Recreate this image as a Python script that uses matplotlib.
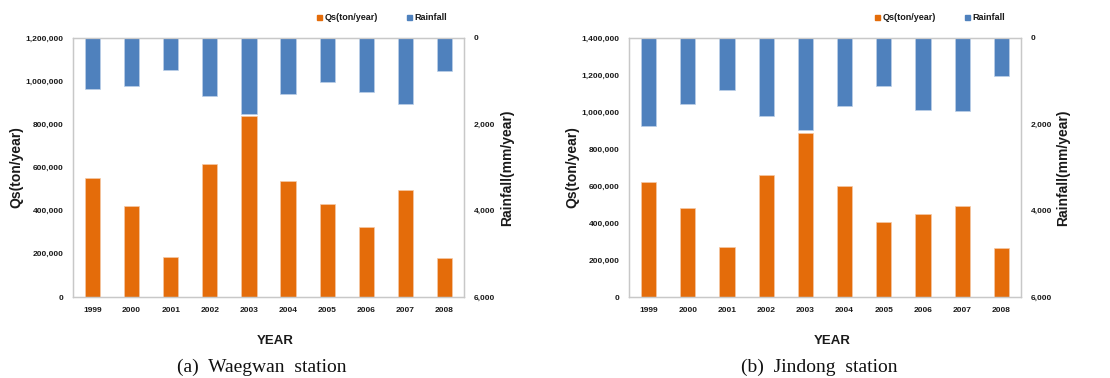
import matplotlib
matplotlib.use("Agg")
import matplotlib.pyplot as plt
from matplotlib.ticker import FuncFormatter
import numpy as np

years = ["1999", "2000", "2001", "2002", "2003", "2004", "2005", "2006", "2007", "2008"]

qs_waegwan = [552000, 420000, 185000, 618000, 840000, 538000, 430000, 325000, 498000, 180000]
rain_waegwan = [1188, 1103, 748, 1334, 1766, 1296, 1010, 1257, 1535, 763]

qs_jindong = [619000, 480000, 269000, 658000, 886000, 599000, 408000, 446000, 492000, 263000]
rain_jindong = [2041, 1539, 1214, 1809, 2142, 1577, 1106, 1662, 1686, 881]

captions = ["(a)  Waegwan  station", "(b)  Jindong  station"]
qs_max = [1200000, 1400000]

ORANGE = "#E46C0A"
BLUE = "#4F81BD"
SPINE = "#C8C8C8"
TXT = "#1a1a1a"

fig = plt.figure(figsize=(11.1, 3.78), dpi=100)

panels = [
    (qs_waegwan, rain_waegwan, 73, 464),
    (qs_jindong, rain_jindong, 629, 1021),
]
W, H = 1110, 378
top_px, bot_px = 38, 297

fmt = FuncFormatter(lambda v, p: f"{int(v):,}")
FAM = "Liberation Sans"

for i, (qs, rain, l, r) in enumerate(panels):
    wpx = r - l
    ax = fig.add_axes([l / W, 1 - bot_px / H, wpx / W, (bot_px - top_px) / H])
    x = np.arange(len(years))
    ax.bar(x, qs, width=0.39, color=ORANGE, edgecolor="#F5C9A6", linewidth=0.5, zorder=2)
    ax.set_ylim(0, qs_max[i])
    ax.set_xlim(-0.5, len(years) - 0.5)
    ax.set_yticks(np.arange(0, qs_max[i] + 1, 200000))
    ax.yaxis.set_major_formatter(fmt)
    ax.set_xticks(x)
    ax.set_xticklabels(years)
    ax.tick_params(axis="both", length=0, colors=TXT)
    ax.tick_params(axis="y", pad=7)
    ax.tick_params(axis="x", pad=7)
    for lab in ax.get_yticklabels() + ax.get_xticklabels():
        lab.set_fontfamily(FAM)
        lab.set_fontweight("bold")
        lab.set_fontsize(6)
    for s in ax.spines.values():
        s.set_color(SPINE)
        s.set_linewidth(0.9)
    ax.set_ylabel("Qs(ton/year)", fontfamily=FAM, fontweight="bold",
                  fontsize=10, color=TXT)
    ax.yaxis.set_label_coords((16 - l + (0 if i == 0 else 556)) / wpx, 0.5)
    ax.yaxis.label.set_verticalalignment("center")

    ax2 = ax.twinx()
    ax2.bar(x, rain, width=0.39, color=BLUE, edgecolor="#BCD0E8", linewidth=0.5, zorder=2)
    ax2.set_ylim(6000, 0)
    ax2.set_yticks([0, 2000, 4000, 6000])
    ax2.yaxis.set_major_formatter(fmt)
    ax2.tick_params(axis="y", length=0, pad=7, colors=TXT)
    for lab in ax2.get_yticklabels():
        lab.set_fontfamily(FAM)
        lab.set_fontweight("bold")
        lab.set_fontsize(6)
    for s in ax2.spines.values():
        s.set_color(SPINE)
        s.set_linewidth(0.9)
    ax2.set_ylabel("Rainfall(mm/year)", fontfamily=FAM, fontweight="bold",
                   fontsize=10, color=TXT, rotation=90)
    rx = 507 if i == 0 else 1063
    ax2.yaxis.set_label_coords((rx - l) / wpx, 0.5)
    ax2.yaxis.label.set_verticalalignment("center")
    ax2.yaxis.label.set_horizontalalignment("center")

    # x axis title
    fig.text((l + r) / 2 / W + 7 / W, 1 - 341 / H, "YEAR", ha="center", va="center",
             fontfamily=FAM, fontweight="bold", fontsize=9.5, color=TXT)

    # legend
    h1 = plt.Rectangle((0, 0), 1, 1, color=ORANGE)
    h2 = plt.Rectangle((0, 0), 1, 1, color=BLUE)
    leg = ax.legend([h1, h2], ["Qs(ton/year)", "Rainfall"], loc="center left",
                    ncol=2, frameon=False, handlelength=0.55, handleheight=0.55,
                    handletextpad=0.25, columnspacing=3.3, borderpad=0, borderaxespad=0,
                    prop=dict(family=FAM, weight="bold", size=6.5))
    lx = 317 if i == 0 else 875
    leg.set_bbox_to_anchor((lx / W, 1 - 18 / H), transform=fig.transFigure)
    for t in leg.get_texts():
        t.set_color(TXT)

    cx = 262 if i == 0 else 819
    fig.text(cx / W, 1 - 367 / H, captions[i], ha="center", va="center",
             fontfamily="Liberation Serif", fontsize=14, color="#111111")

fig.savefig("out.png", dpi=100)
